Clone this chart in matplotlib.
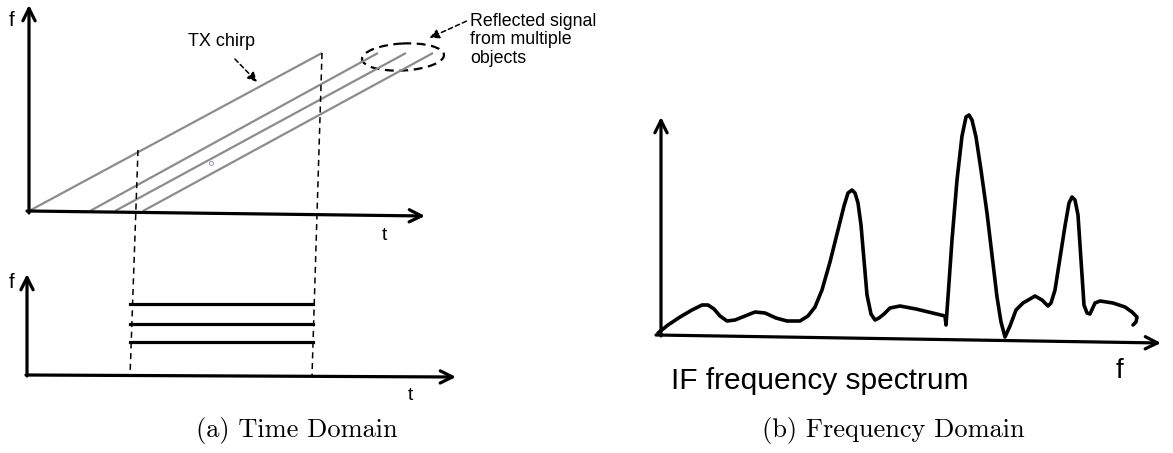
import matplotlib.pyplot as plt
from matplotlib.patches import Ellipse, FancyArrowPatch

# --- data (figure pixel units, y grows downward) ---
# chirps: TX first, then the three reflections
chirp_t_start = [29, 90, 115, 143]
chirp_t_stop = [322, 378, 406, 433]
chirp_f_low = 211
chirp_f_high = 53

# IF tones in the lower time-domain panel
if_levels = [304, 324, 342]
if_window = [130, 313]

# IF spectrum (hand traced)
spec_f = [658, 668, 680, 692, 702, 708, 714, 720, 727, 735, 745, 755, 765, 776,
          787, 800, 808, 815, 822, 830, 838, 844, 848, 852, 855, 858, 861, 864,
          867, 871, 875, 879, 884, 890, 900, 916, 945, 946, 948, 952, 957, 962,
          966, 969, 972, 976, 981, 987, 992, 997, 1001, 1005, 1010, 1016, 1023,
          1030, 1035, 1042, 1048, 1051, 1055, 1060, 1065, 1069, 1072, 1075,
          1078, 1081, 1084, 1087, 1090, 1095, 1100, 1113, 1125, 1132, 1137, 1136, 1133]
spec_amp = [333, 325, 317, 310, 305, 305, 309, 316, 321, 320, 316, 312, 313, 318,
            321, 321, 316, 307, 290, 262, 230, 206, 193, 190, 193, 203, 225, 260,
            295, 314, 320, 318, 314, 308, 306, 309, 316, 325, 297, 240, 180, 136,
            117, 115, 120, 137, 170, 213, 255, 297, 322, 337, 326, 310, 303,
            299, 296, 300, 306, 303, 290, 258, 226, 203, 197, 200, 215, 260,
            305, 313, 314, 303, 301, 303, 307, 312, 317, 322, 325]

fig = plt.figure(figsize=(11.73, 4.53), dpi=100)
ax = fig.add_axes([0, 0, 1, 1])
ax.set_xlim(0, 1173)
ax.set_ylim(453, 0)
ax.axis('off')

sans = 'Liberation Sans'
axis_arrow = dict(arrowstyle='->', lw=2.3, color='black', mutation_scale=22,
                  shrinkA=0, shrinkB=0)

# ---------- (a) top: chirps ----------
ax.annotate('', xy=(29, 5), xytext=(29, 213), arrowprops=axis_arrow)
ax.annotate('', xy=(425, 216), xytext=(27, 211), arrowprops=axis_arrow)
ax.text(12, 21, 'f', fontsize=15, family=sans, ha='center', va='center')
ax.text(384, 236, 't', fontsize=14, family=sans, ha='center', va='center')

for t0, t1 in zip(chirp_t_start, chirp_t_stop):
    ax.plot([t0, t1], [chirp_f_low, chirp_f_high], color='#8c8c8c', lw=1.6,
            solid_capstyle='butt')

# window of the IF signal
ax.plot([322, 312], [53, 376], color='black', lw=1.1, ls=(0, (4, 3)))
ax.plot([138, 130], [150, 377], color='black', lw=1.1, ls=(0, (4, 3)))

ax.add_patch(Ellipse((403, 57), 82, 27, angle=-3, fill=False, ec='black',
                     lw=1.6, ls=(0, (4, 2.5))))
ax.text(188, 42, 'TX chirp', fontsize=13, family=sans, va='center')
ax.add_patch(FancyArrowPatch((233, 57), (259, 84), arrowstyle='-|>',
                             mutation_scale=14, color='black', lw=1.1,
                             ls=(0, (3, 2))))
ax.text(470, 13, 'Reflected signal\nfrom multiple\nobjects', fontsize=12.8,
        family=sans, va='top', ha='left', linespacing=1.1)
ax.add_patch(FancyArrowPatch((469, 20), (427, 39), arrowstyle='-|>',
                             mutation_scale=14, color='black', lw=1.1,
                             ls=(0, (3, 2))))
ax.plot([211], [163], marker='o', ms=3, mfc='none', mec='#9090b0', mew=0.6)

# ---------- (a) bottom: IF tones ----------
ax.annotate('', xy=(27, 274), xytext=(27, 376), arrowprops=axis_arrow)
ax.annotate('', xy=(456, 377), xytext=(26, 375), arrowprops=axis_arrow)
ax.text(12, 283, 'f', fontsize=15, family=sans, ha='center', va='center')
ax.text(410, 396, 't', fontsize=14, family=sans, ha='center', va='center')
for lv in if_levels:
    ax.plot(if_window, [lv, lv], color='black', lw=2.3)

ax.text(297, 431, '(a) Time Domain', fontsize=19, family='cmr10',
        ha='center', va='center')

# ---------- (b) spectrum ----------
ax.annotate('', xy=(661, 117), xytext=(661, 336), arrowprops=axis_arrow)
ax.annotate('', xy=(1161, 343), xytext=(656, 335), arrowprops=axis_arrow)
ax.plot(spec_f, spec_amp, color='black', lw=2.6, solid_joinstyle='round',
        solid_capstyle='round')
ax.text(1120, 371, 'f', fontsize=20, family=sans, ha='center', va='center')
ax.text(671, 381, 'IF frequency spectrum', fontsize=21.5, family=sans,
        ha='left', va='center')
ax.text(893, 431, '(b) Frequency Domain', fontsize=19, family='cmr10',
        ha='center', va='center')

fig.savefig('out.png', dpi=100)
